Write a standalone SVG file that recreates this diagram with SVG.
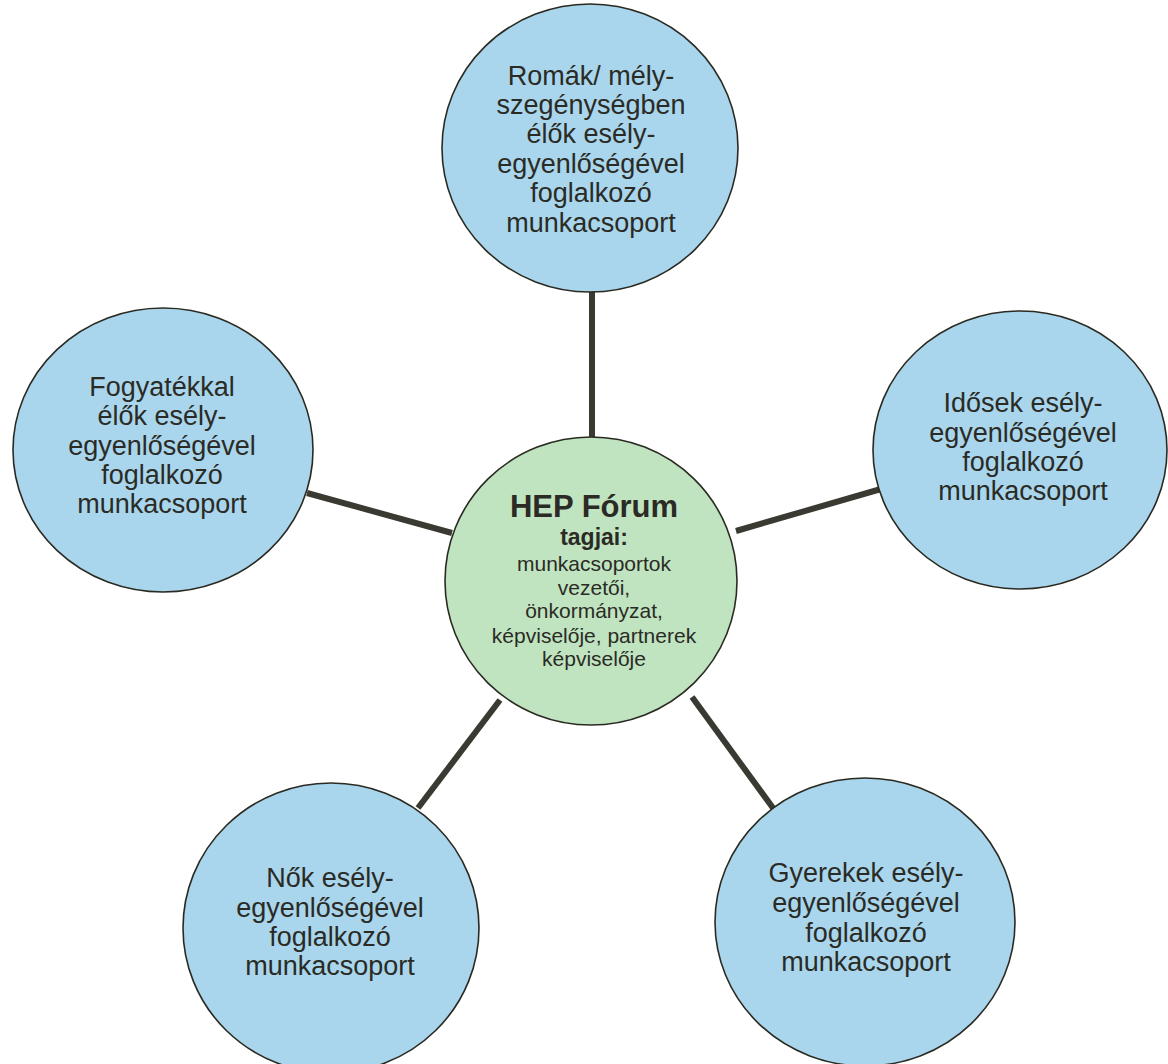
<svg xmlns="http://www.w3.org/2000/svg" width="1168" height="1064" viewBox="0 0 1168 1064">
<style>
.wg{fill:#a9d6ec;stroke:#2a2a22;stroke-width:1.6}
.hub{fill:#c0e4c0;stroke:#2a2a22;stroke-width:1.6}
.t{font-family:"Liberation Sans",Arial,sans-serif;font-size:27px;fill:#2b2b26;text-anchor:middle}
.c{font-family:"Liberation Sans",Arial,sans-serif;font-size:21px;fill:#2b2b26;text-anchor:middle}
.cb{font-weight:bold}
.conn{stroke:#3a3a32;stroke-width:6;fill:none}
</style>
<rect width="1168" height="1064" fill="#ffffff"/>
<g id="connectors">
<line class="conn" x1="592" y1="290" x2="592" y2="440"/>
<line class="conn" x1="307" y1="493" x2="452" y2="533"/>
<line class="conn" x1="736" y1="531" x2="881" y2="489"/>
<line class="conn" x1="418" y1="808" x2="500" y2="700"/>
<line class="conn" x1="692" y1="697" x2="773" y2="808"/>
</g>
<g id="node-romak">
<ellipse class="wg" cx="590" cy="148" rx="148" ry="144"/>
<text class="t" x="591" y="85">Romák/ mély-</text>
<text class="t" x="591" y="114">szegénységben</text>
<text class="t" x="591" y="143">élők esély-</text>
<text class="t" x="591" y="173">egyenlőségével</text>
<text class="t" x="591" y="202">foglalkozó</text>
<text class="t" x="591" y="232">munkacsoport</text>
</g>
<g id="node-fogyatekkal">
<ellipse class="wg" cx="163" cy="450" rx="150" ry="142"/>
<text class="t" x="162" y="396">Fogyatékkal</text>
<text class="t" x="162" y="425">élők esély-</text>
<text class="t" x="162" y="455">egyenlőségével</text>
<text class="t" x="162" y="484">foglalkozó</text>
<text class="t" x="162" y="513">munkacsoport</text>
</g>
<g id="node-idosek">
<ellipse class="wg" cx="1020" cy="450" rx="147" ry="139"/>
<text class="t" x="1023" y="412">Idősek esély-</text>
<text class="t" x="1023" y="442">egyenlőségével</text>
<text class="t" x="1023" y="471">foglalkozó</text>
<text class="t" x="1023" y="500">munkacsoport</text>
</g>
<g id="node-nok">
<ellipse class="wg" cx="331" cy="928" rx="148" ry="145"/>
<text class="t" x="330" y="887">Nők esély-</text>
<text class="t" x="330" y="917">egyenlőségével</text>
<text class="t" x="330" y="946">foglalkozó</text>
<text class="t" x="330" y="975">munkacsoport</text>
</g>
<g id="node-gyerekek">
<ellipse class="wg" cx="865" cy="922" rx="150" ry="144"/>
<text class="t" x="866" y="882">Gyerekek esély-</text>
<text class="t" x="866" y="912">egyenlőségével</text>
<text class="t" x="866" y="942">foglalkozó</text>
<text class="t" x="866" y="971">munkacsoport</text>
</g>
<g id="node-hep-forum">
<ellipse class="hub" cx="591" cy="581" rx="146" ry="144"/>
<text class="c cb" x="594" y="517" style="font-size:31px">HEP Fórum</text>
<text class="c cb" x="594" y="545" style="font-size:23px">tagjai:</text>
<text class="c" x="594" y="571">munkacsoportok</text>
<text class="c" x="594" y="595">vezetői,</text>
<text class="c" x="594" y="618">önkormányzat,</text>
<text class="c" x="594" y="643">képviselője, partnerek</text>
<text class="c" x="594" y="666">képviselője</text>
</g>
</svg>
